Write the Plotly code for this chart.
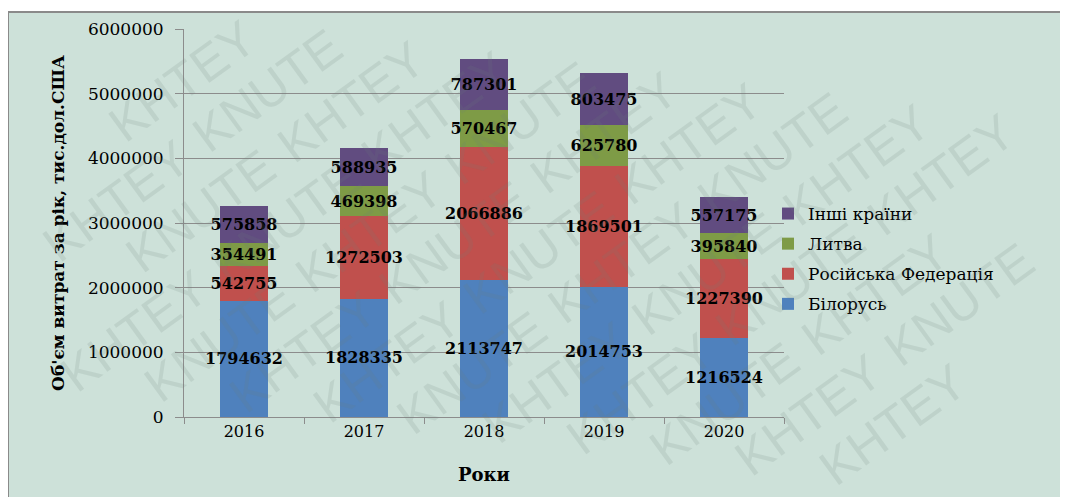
import math
import plotly.graph_objects as go

years = ["2016", "2017", "2018", "2019", "2020"]
belarus = [1794632, 1828335, 2113747, 2014753, 1216524]
russia = [542755, 1272503, 2066886, 1869501, 1227390]
lithuania = [354491, 469398, 570467, 625780, 395840]
others = [575858, 588935, 787301, 803475, 557175]

series_names = ["Білорусь", "Російська Федерація", "Литва", "Інші країни"]
series_values = [belarus, russia, lithuania, others]
series_colors = ["#4f81bd", "#c0504d", "#7e9b46", "#614c80"]
legend_ranks = [4, 3, 2, 1]

y_ticks = [0, 1000000, 2000000, 3000000, 4000000, 5000000, 6000000]

y_title = "Об'єм витрат за рік, тис.дол.США"
x_title = "Роки"
watermark_words = ["KNUTE", "KHTEY"]

# figure / plot-area geometry (pixels, figure coords; page adds 8px body margin)
W, H = 1060, 489
L, T = 176, 21
PW, PH = 600, 388
R = W - L - PW
B = H - T - PH


def px_to_paper(px, py):
    return (px - L) / PW, (H - B - py) / PH


fig = go.Figure()
for name, vals, col, rank in zip(series_names, series_values, series_colors, legend_ranks):
    fig.add_trace(go.Bar(
        x=years, y=vals, name=name,
        marker=dict(color=col, line=dict(width=0)),
        text=[str(v) for v in vals],
        textposition="inside",
        insidetextanchor="middle",
        textangle=0,
        textfont=dict(family="DejaVu Serif", size=16, color="black", weight="bold"),
        legendrank=rank,
        legendgroup=name,
    ))

# frame
x0, y0 = px_to_paper(0, 4)
x1, y1 = px_to_paper(W + 60, H + 60)
shapes = [dict(type="rect", xref="paper", yref="paper", x0=x0, y0=y1, x1=x1, y1=y0,
               fillcolor="#cde1d9", line=dict(color="#8a8a8a", width=2), layer="below")]

# watermark: individual words on diagonal lines, only where fully visible
annotations = []
ang = math.radians(36)
dirx, diry = math.cos(ang), -math.sin(ang)
perx, pery = math.sin(ang), math.cos(ang)
fs = 50
wlen = 169
line_gap = 58
word_step = 186
hw = (wlen * math.cos(ang) + 0.72 * fs * math.sin(ang)) / 2
hh = (wlen * math.sin(ang) + 0.72 * fs * math.cos(ang)) / 2
for k in range(-15, 16):
    for j in range(-10, 11):
        off = (k % 3) * word_step / 3
        cx = 530 + k * line_gap * perx + (j * word_step + off) * dirx
        cy = 245 + k * line_gap * pery + (j * word_step + off) * diry
        if cx - hw < 1 or cx + hw > W - 1 or cy - hh < 6 or cy + hh > H - 1:
            continue
        xp, yp = px_to_paper(cx, cy)
        annotations.append(dict(
            xref="paper", yref="paper", x=xp, y=yp,
            xanchor="center", yanchor="middle",
            text=watermark_words[(j + k) % 2], showarrow=False,
            textangle=-36,
            font=dict(family="Liberation Sans", size=fs, color="rgba(110,125,120,0.15)"),
        ))

fig.update_layout(
    width=W, height=H,
    margin=dict(l=L, r=R, t=T, b=B, autoexpand=False),
    barmode="stack",
    bargap=0.6,
    paper_bgcolor="white",
    plot_bgcolor="rgba(0,0,0,0)",
    font=dict(family="DejaVu Serif", size=16, color="black"),
    uniformtext=dict(mode="show", minsize=16),
    shapes=shapes,
    annotations=annotations,
    showlegend=True,
    legend=dict(
        x=px_to_paper(760, 0)[0], y=px_to_paper(0, 188)[1], xanchor="left", yanchor="top",
        traceorder="grouped", tracegroupgap=5,
        font=dict(family="DejaVu Serif", size=17, color="black"),
        bgcolor="rgba(0,0,0,0)",
    ),
    xaxis=dict(
        type="category",
        showline=True, linecolor="#8c8c8c", linewidth=1,
        ticks="outside", tickson="boundaries", ticklen=6, tickcolor="#8c8c8c",
        tickfont=dict(family="DejaVu Serif", size=16, color="black"),
        title=dict(text=x_title, font=dict(family="DejaVu Serif", size=18, color="black", weight="bold"), standoff=28),
        showgrid=False,
    ),
    yaxis=dict(
        range=[0, 6000000], tickvals=y_ticks, tickformat="d",
        showline=True, linecolor="#8c8c8c", linewidth=1,
        showgrid=True, gridcolor="#8c8c8c", gridwidth=1,
        ticks="outside", ticklen=8, tickcolor="#8c8c8c",
        ticklabelstandoff=8,
        tickfont=dict(family="DejaVu Serif", size=17, color="black"),
        title=dict(text=y_title, font=dict(family="DejaVu Serif", size=17, color="black", weight="bold"), standoff=18),
        zeroline=False,
    ),
)

fig.write_html("out.html")
